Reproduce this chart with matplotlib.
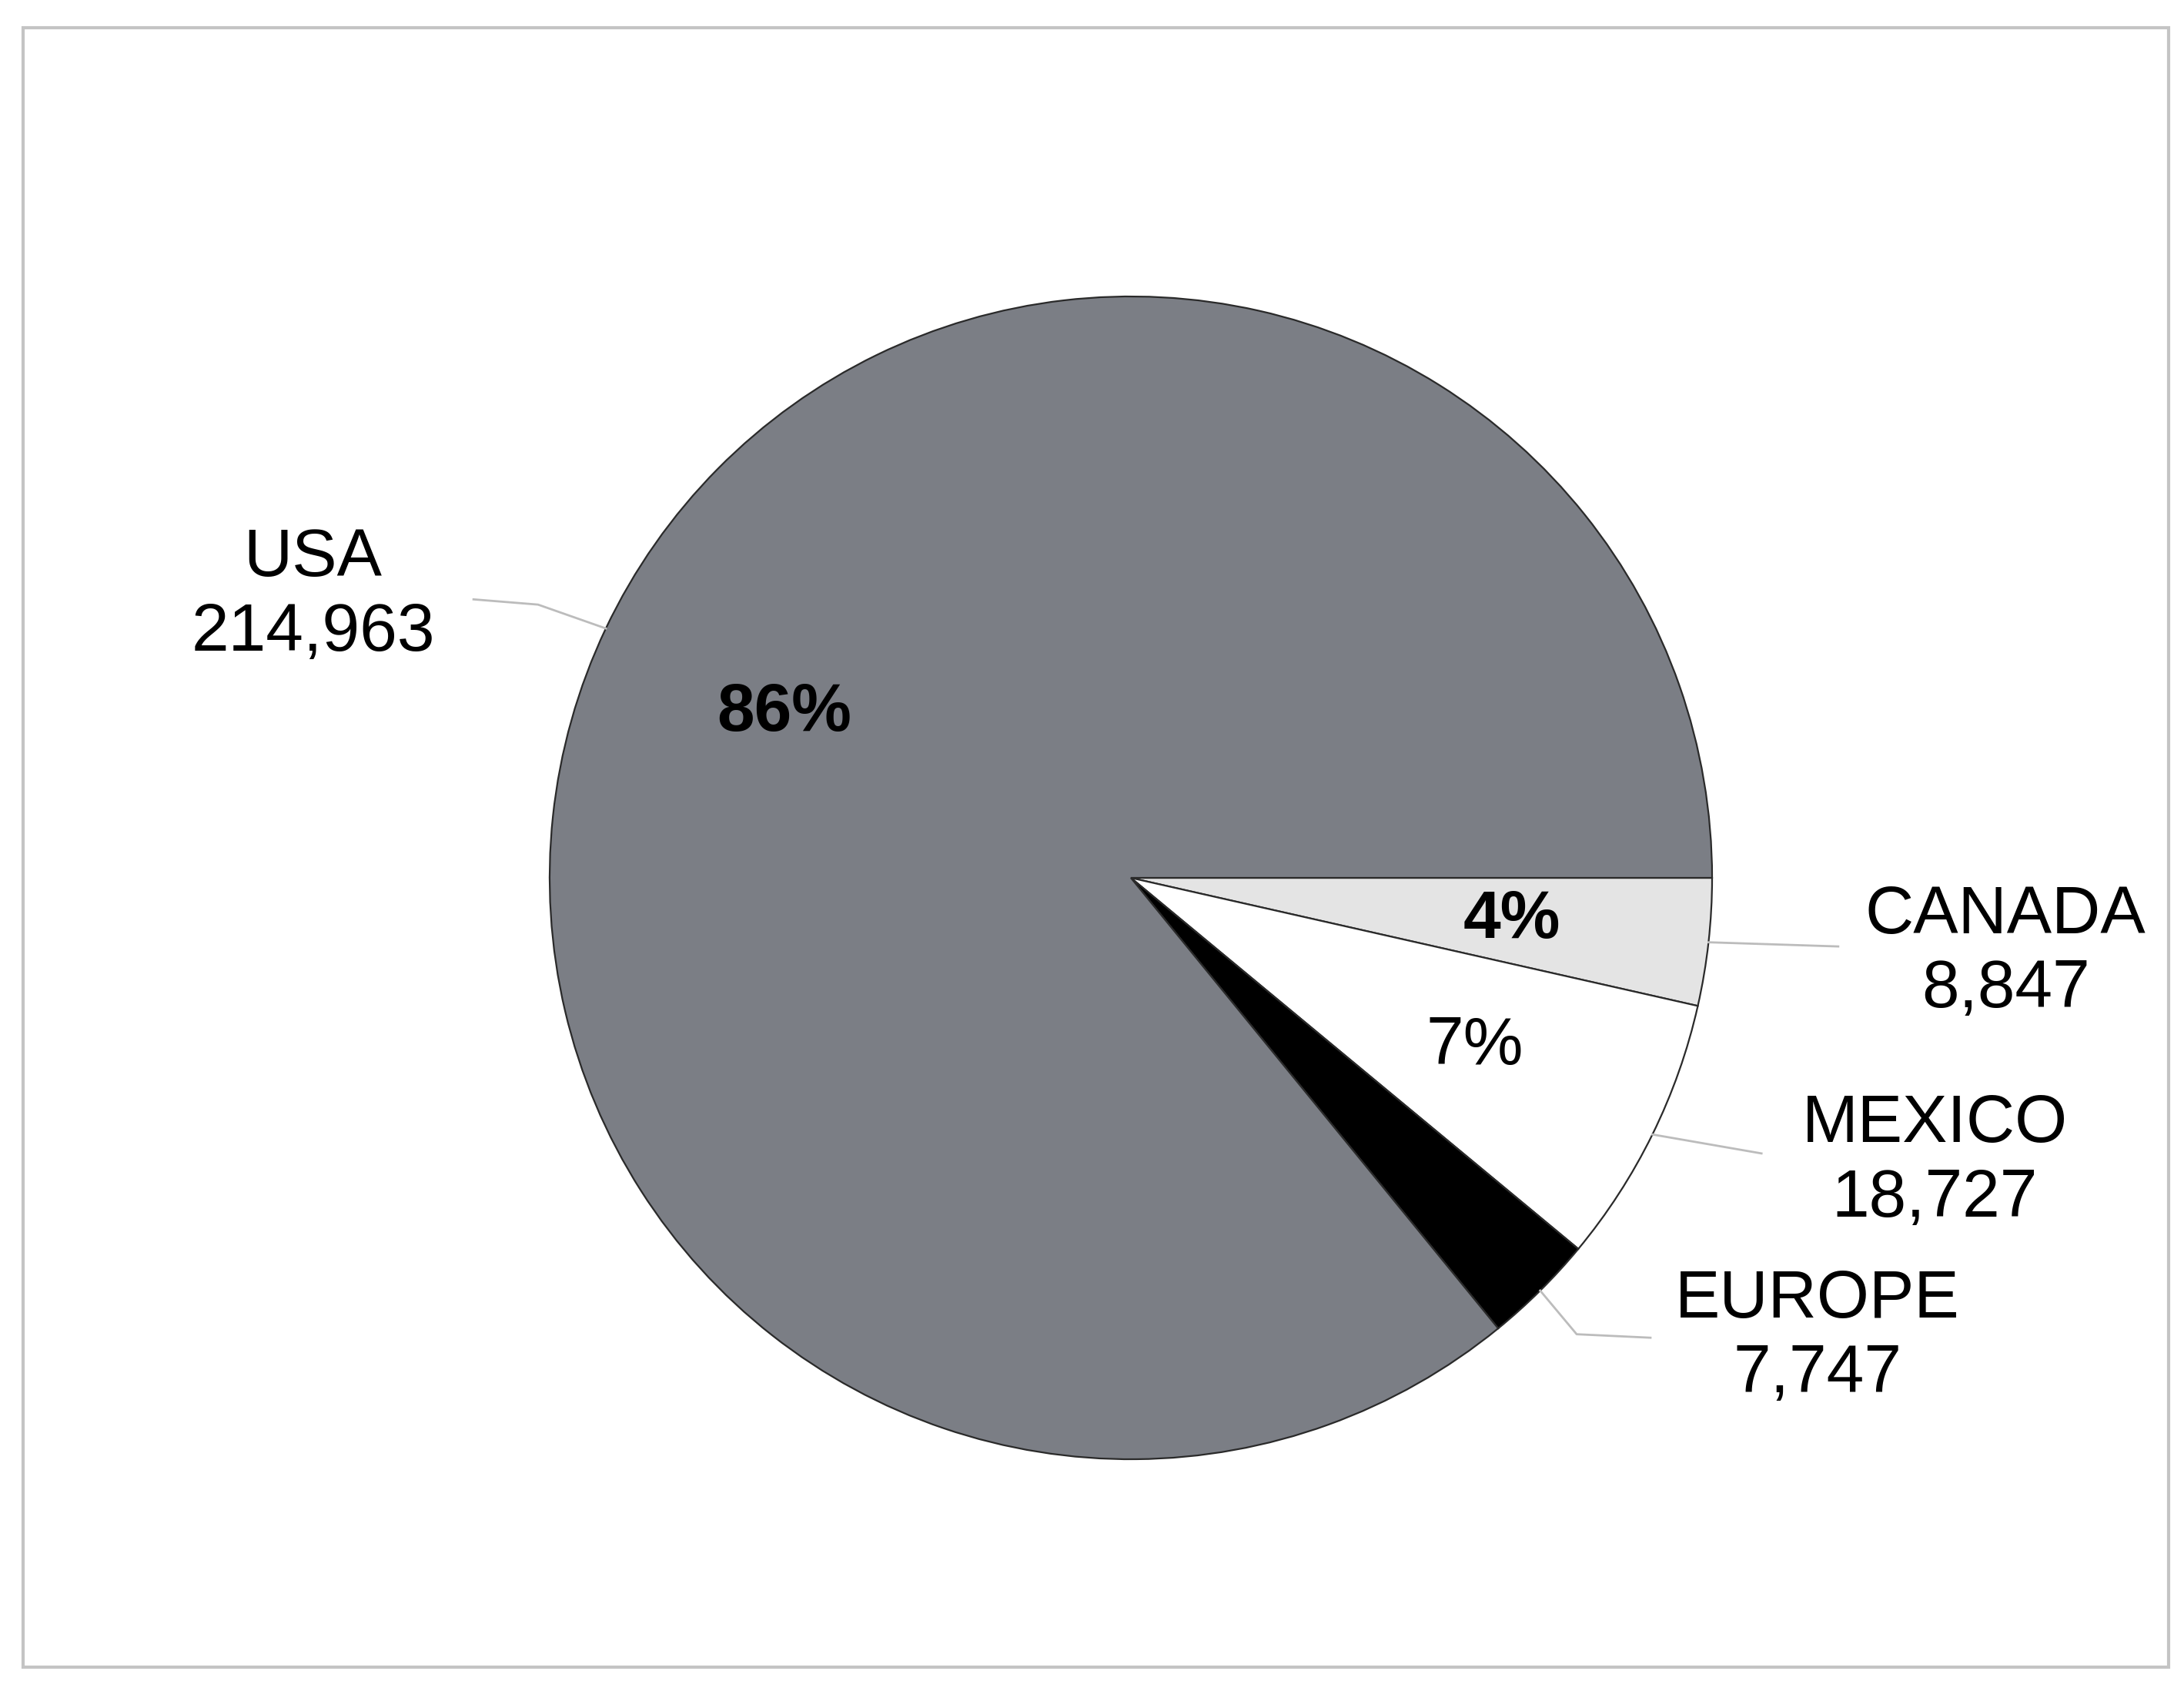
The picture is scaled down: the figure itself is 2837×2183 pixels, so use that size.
import numpy as np
import matplotlib
matplotlib.use("Agg")
import matplotlib.pyplot as plt
from matplotlib.patches import Rectangle

plt.rcParams['font.family'] = ['Liberation Sans', 'DejaVu Sans']

# data, clockwise from 3 o'clock
regions = ['CANADA', 'MEXICO', 'EUROPE', 'USA']
sales = [8847, 18727, 7747, 214963]
colors = ['#e4e4e4', '#ffffff', '#000000', '#7b7e85']
pct_bold = [True, False, False, True]
pct_shown = [True, True, False, True]

# where the name/value labels sit (data units, pie radius = 1)
label_xy = [(1.505, -0.129), (1.383, -0.489), (1.181, -0.791), (-1.407, 0.485)]
# extra bend points of the leader lines after the wedge edge
leader_pts = [[(1.217, -0.118)],
              [(1.085, -0.474)],
              [(0.767, -0.785), (0.894, -0.791)],
              [(-1.02, 0.47), (-1.131, 0.479)]]

W, H = 2837, 2183
fig = plt.figure(figsize=(W / 100, H / 100), dpi=100)
ax = fig.add_axes([0, 0, 1, 1])

wedges, texts, autotexts = ax.pie(
    sales, colors=colors, startangle=0, counterclock=False,
    autopct=lambda p: '%.0f%%' % p, pctdistance=0.66,
    wedgeprops=dict(edgecolor='#2a2a2a', linewidth=1.6),
    textprops=dict(fontsize=63, color='black'))

for t, b, s in zip(autotexts, pct_bold, pct_shown):
    t.set_fontweight('bold' if b else 'normal')
    t.set_visible(s)

for w, name, val, (lx, ly), pts in zip(wedges, regions, sales, label_xy, leader_pts):
    ang = np.deg2rad((w.theta1 + w.theta2) / 2)
    xs = [np.cos(ang)] + [p[0] for p in pts]
    ys = [np.sin(ang)] + [p[1] for p in pts]
    ax.plot(xs, ys, color='#bcbcbc', lw=2)
    ax.text(lx, ly, '%s\n%s' % (name, format(val, ',')), ha='center', va='center',
            fontsize=63, linespacing=1.25)

cx, cy, R = 1469, 1140, 755  # pie centre and radius in pixels
ax.set_xlim(-cx / R, (W - cx) / R)
ax.set_ylim(-(H - cy) / R, cy / R)
ax.set_aspect('equal')
ax.axis('off')

# frame around the chart
fig.patches.append(Rectangle((30 / W, 18 / H), (W - 50) / W, (H - 54) / H,
                             transform=fig.transFigure, fill=False,
                             edgecolor='#c4c4c4', lw=3))

fig.savefig('out.png', dpi=100, facecolor='white')
